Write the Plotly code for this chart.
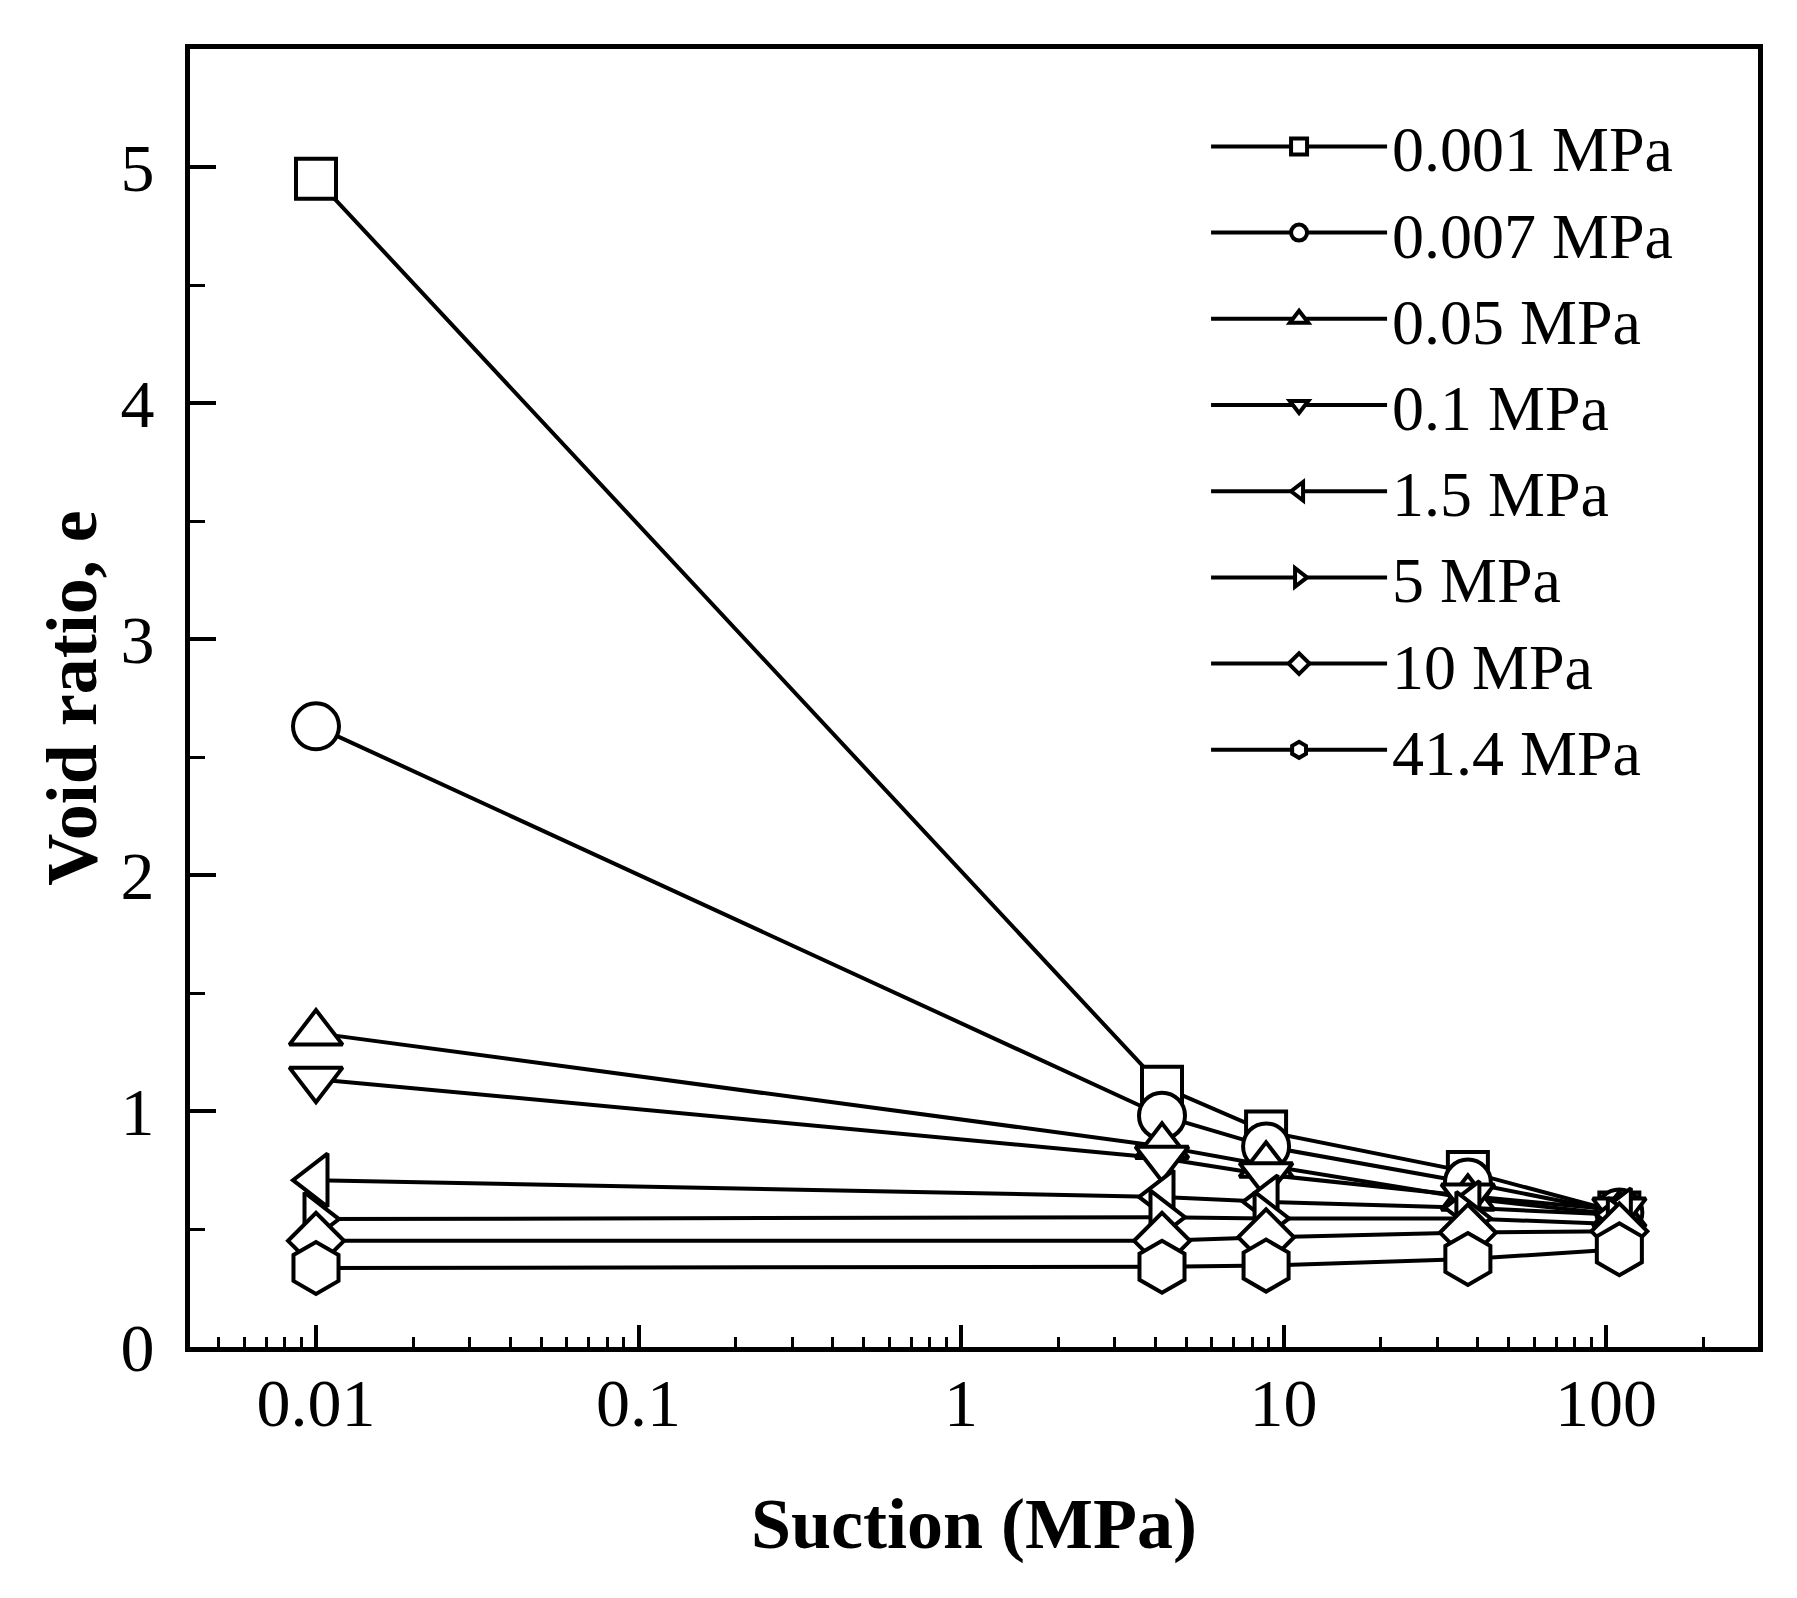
import plotly.graph_objects as go

# Suction values (MPa)
suction = [0.01, 4.2, 8.83, 37.3, 110]

# Void ratio for each vertical stress series
series_names = ["0.001 MPa", "0.007 MPa", "0.05 MPa", "0.1 MPa",
                "1.5 MPa", "5 MPa", "10 MPa", "41.4 MPa"]
e_0_001 = [4.95, 1.103, 0.913, 0.742, 0.57]
e_0_007 = [2.63, 0.98, 0.85, 0.697, 0.57]
e_0_05 = [1.33, 0.85, 0.77, 0.63, 0.56]
e_0_1 = [1.135, 0.80, 0.73, 0.64, 0.58]
e_1_5 = [0.707, 0.636, 0.615, 0.59, 0.56]
e_5 = [0.542, 0.55, 0.545, 0.545, 0.52]
e_10 = [0.45, 0.45, 0.465, 0.485, 0.49]
e_41_4 = [0.335, 0.34, 0.345, 0.373, 0.414]

x_tick_vals = [0.01, 0.1, 1, 10, 100]
x_tick_text = ["0.01", "0.1", "1", "10", "100"]
y_tick_vals = [0, 1, 2, 3, 4, 5]

series_values = [e_0_001, e_0_007, e_0_05, e_0_1, e_1_5, e_5, e_10, e_41_4]
symbols = ["square", "circle", "triangle-up", "triangle-down",
           "triangle-left", "triangle-right", "diamond", "hexagon"]
sizes = [40, 46, 46, 46, 46, 46, 43, 52]

FONT = "Liberation Serif, Times New Roman, serif"

fig = go.Figure()
for name, vals, sym, sz in zip(series_names, series_values, symbols, sizes):
    fig.add_trace(go.Scatter(
        x=suction, y=vals, name=name, mode="lines+markers",
        line=dict(color="black", width=4),
        marker=dict(symbol=sym, size=sz, color="white",
                    line=dict(color="black", width=4)),
    ))

minor_x = [m * 10 ** k for k in range(-3, 3) for m in range(2, 10)]

fig.update_layout(
    width=1797, height=1598,
    margin=dict(l=190, r=39, t=49, b=251),
    paper_bgcolor="white", plot_bgcolor="white",
    font=dict(family=FONT, color="black", size=68),
    showlegend=True,
    legend=dict(
        x=0.648, y=0.962, xanchor="left", yanchor="top",
        bgcolor="rgba(0,0,0,0)", borderwidth=0,
        font=dict(family=FONT, size=64, color="black"),
        itemwidth=176, tracegroupgap=0,
    ),
    xaxis=dict(
        type="log",
        range=[-2.3907, 2.4713],
        tickmode="array", tickvals=x_tick_vals, ticktext=x_tick_text,
        ticks="inside", ticklen=22, tickwidth=4, tickcolor="black",
        minor=dict(tickmode="array", tickvals=minor_x, ticks="inside",
                   ticklen=10, tickwidth=3, tickcolor="black", showgrid=False),
        showline=True, linewidth=5, linecolor="black", mirror=True,
        showgrid=False, zeroline=False,
        ticklabelstandoff=-8,
        tickfont=dict(family=FONT, size=68, color="black"),
        title=dict(text="<b>Suction (MPa)</b>",
                   font=dict(family=FONT, size=72, color="black"),
                   standoff=60),
    ),
    yaxis=dict(
        range=[0, 5.5],
        tickmode="array", tickvals=y_tick_vals,
        ticks="inside", ticklen=26, tickwidth=4, tickcolor="black",
        minor=dict(dtick=0.5, ticks="inside", ticklen=15, tickwidth=3,
                   tickcolor="black", showgrid=False),
        showline=True, linewidth=5, linecolor="black", mirror=True,
        showgrid=False, zeroline=False,
        ticklabelstandoff=17,
        tickfont=dict(family=FONT, size=68, color="black"),
        title=dict(text="<b>Void ratio, e</b>",
                   font=dict(family=FONT, size=72, color="black"),
                   standoff=2),
    ),
)

fig.write_html("out.html", config={"displayModeBar": False},
               post_script="document.body.style.margin='0';")
